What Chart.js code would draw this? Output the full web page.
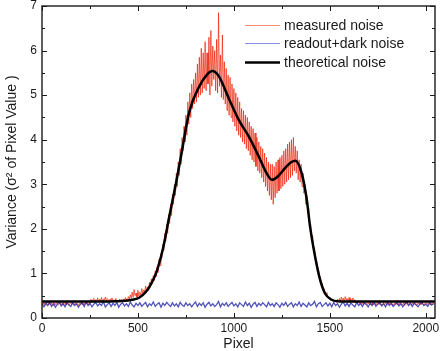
<!DOCTYPE html>
<html>
<head>
<meta charset="utf-8">
<script src="https://cdn.jsdelivr.net/npm/chart.js@4/dist/chart.umd.min.js"></script>
<style>
  html, body { margin: 0; padding: 0; background: #fff; }
</style>
</head>
<body>
<canvas id="noiseChart" width="440" height="351"></canvas>
<script>
// measured noise, one sample every 5 pixels (0 .. 2045)
const measuredStep = 5;
const measuredNoise = [
    0.33, 0.30, 0.35, 0.31, 0.28, 0.33, 0.36, 0.30, 0.32, 0.29,
    0.34, 0.31, 0.28, 0.33, 0.30, 0.35, 0.32, 0.29, 0.31, 0.34,
    0.30, 0.33, 0.28, 0.32, 0.35, 0.30, 0.31, 0.34, 0.29, 0.32,
    0.35, 0.30, 0.33, 0.29, 0.31, 0.34, 0.30, 0.32, 0.28, 0.33,
    0.31, 0.35, 0.29, 0.33, 0.30, 0.34, 0.31, 0.36, 0.32, 0.30,
    0.37, 0.42, 0.35, 0.40, 0.44, 0.36, 0.41, 0.38, 0.45, 0.37,
    0.42, 0.39, 0.46, 0.36, 0.43, 0.40, 0.47, 0.38, 0.44, 0.41,
    0.36, 0.43, 0.39, 0.45, 0.37, 0.41, 0.38, 0.44, 0.36, 0.40,
    0.37, 0.42, 0.38, 0.41, 0.36, 0.43, 0.40, 0.46, 0.41, 0.39,
    0.48, 0.42, 0.52, 0.44, 0.58, 0.46, 0.64, 0.50, 0.56, 0.47,
    0.62, 0.49, 0.58, 0.52, 0.66, 0.55, 0.63, 0.58, 0.72, 0.60,
    0.70, 0.62, 0.80, 0.69, 0.88, 0.76, 0.95, 0.84, 1.05, 0.93,
    1.15, 1.02, 1.32, 1.18, 1.45, 1.36, 1.66, 1.52, 1.90, 1.72,
    2.10, 1.90, 2.32, 2.12, 2.55, 2.30, 2.78, 2.55, 3.00, 2.75,
    3.25, 2.95, 3.50, 3.20, 3.80, 3.45, 4.05, 3.75, 4.30, 3.95,
    4.55, 4.10, 4.85, 4.35, 5.05, 4.50, 5.25, 4.70, 5.35, 4.80,
    5.50, 4.85, 5.70, 4.95, 5.85, 5.00, 6.05, 5.05, 5.95, 5.15,
    6.20, 5.10, 5.95, 5.25, 6.30, 5.00, 6.45, 5.20, 6.10, 5.35,
    6.00, 5.10, 6.25, 5.05, 6.85, 5.20, 5.90, 4.95, 6.35, 4.90,
    5.75, 4.80, 5.60, 4.65, 5.45, 4.55, 5.40, 4.50, 5.25, 4.40,
    5.15, 4.30, 5.05, 4.20, 4.95, 4.10, 4.85, 4.05, 4.70, 3.95,
    4.65, 3.90, 4.55, 3.80, 4.50, 3.75, 4.40, 3.65, 4.30, 3.55,
    4.25, 3.50, 4.15, 3.40, 4.05, 3.30, 3.95, 3.25, 3.85, 3.15,
    3.80, 3.05, 3.70, 2.95, 3.60, 2.85, 3.50, 2.75, 3.45, 2.65,
    3.45, 2.55, 3.40, 2.70, 3.50, 2.80, 3.55, 2.85, 3.60, 2.90,
    3.65, 2.95, 3.75, 3.00, 3.80, 3.05, 3.90, 3.10, 3.95, 3.15,
    4.00, 3.20, 4.05, 3.30, 3.85, 3.25, 3.75, 3.10, 3.55, 3.05,
    3.45, 2.95, 3.25, 2.80, 3.00, 2.55, 2.75, 2.35, 2.45, 2.05,
    2.10, 1.80, 1.85, 1.55, 1.58, 1.30, 1.32, 1.10, 1.12, 0.95,
    0.92, 0.80, 0.78, 0.66, 0.66, 0.56, 0.57, 0.48, 0.50, 0.43,
    0.46, 0.40, 0.43, 0.38, 0.41, 0.36, 0.40, 0.35, 0.42, 0.37,
    0.44, 0.38, 0.47, 0.39, 0.45, 0.36, 0.48, 0.40, 0.44, 0.37,
    0.46, 0.38, 0.43, 0.36, 0.45, 0.35, 0.41, 0.34, 0.38, 0.33,
    0.37, 0.32, 0.36, 0.31, 0.35, 0.30, 0.34, 0.31, 0.33, 0.30,
    0.34, 0.31, 0.33, 0.29, 0.35, 0.30, 0.32, 0.34, 0.29, 0.33,
    0.31, 0.35, 0.30, 0.33, 0.28, 0.32, 0.34, 0.30, 0.33, 0.31,
    0.29, 0.34, 0.31, 0.35, 0.30, 0.32, 0.28, 0.33, 0.31, 0.34,
    0.30, 0.33, 0.29, 0.35, 0.31, 0.32, 0.30, 0.34, 0.28, 0.33,
    0.31, 0.35, 0.30, 0.32, 0.34, 0.29, 0.33, 0.31, 0.35, 0.30,
    0.32, 0.29, 0.34, 0.31, 0.33, 0.30, 0.35, 0.31, 0.29, 0.33,
    0.31, 0.34, 0.30, 0.32, 0.35, 0.29, 0.33, 0.31, 0.34, 0.30
];

// readout + dark noise, one sample every 10 pixels (0 .. 2040)
const readoutStep = 10;
const readoutNoise = [
    0.30, 0.25, 0.34, 0.28, 0.35, 0.26, 0.32, 0.24, 0.31, 0.36,
    0.27, 0.33, 0.25, 0.34, 0.29, 0.26, 0.35, 0.28, 0.32, 0.24,
    0.31, 0.34, 0.26, 0.36, 0.28, 0.33, 0.25, 0.31, 0.35, 0.27,
    0.32, 0.28, 0.37, 0.25, 0.30, 0.34, 0.26, 0.33, 0.28, 0.35,
    0.24, 0.31, 0.34, 0.27, 0.32, 0.26, 0.36, 0.29, 0.25, 0.33,
    0.28, 0.34, 0.26, 0.31, 0.35, 0.25, 0.32, 0.28, 0.36, 0.26,
    0.31, 0.34, 0.24, 0.33, 0.28, 0.35, 0.30, 0.26, 0.34, 0.27,
    0.32, 0.25, 0.35, 0.29, 0.26, 0.34, 0.28, 0.32, 0.25, 0.31,
    0.36, 0.26, 0.33, 0.28, 0.34, 0.24, 0.31, 0.35, 0.27, 0.32,
    0.26, 0.30, 0.37, 0.25, 0.33, 0.28, 0.34, 0.26, 0.31, 0.35,
    0.27, 0.32, 0.25, 0.34, 0.30, 0.26, 0.36, 0.28, 0.33, 0.24,
    0.31, 0.35, 0.26, 0.33, 0.28, 0.34, 0.30, 0.25, 0.35, 0.28,
    0.32, 0.26, 0.34, 0.30, 0.24, 0.33, 0.28, 0.35, 0.26, 0.31,
    0.34, 0.25, 0.32, 0.28, 0.36, 0.26, 0.33, 0.29, 0.25, 0.34,
    0.28, 0.31, 0.37, 0.25, 0.32, 0.35, 0.26, 0.30, 0.34, 0.27,
    0.33, 0.25, 0.35, 0.28, 0.32, 0.24, 0.31, 0.36, 0.27, 0.33,
    0.26, 0.34, 0.29, 0.25, 0.35, 0.28, 0.32, 0.26, 0.34, 0.30,
    0.25, 0.33, 0.28, 0.36, 0.26, 0.31, 0.34, 0.27, 0.32, 0.25,
    0.35, 0.28, 0.33, 0.26, 0.30, 0.34, 0.27, 0.32, 0.25, 0.31,
    0.36, 0.28, 0.33, 0.26, 0.34, 0.29, 0.25, 0.32, 0.35, 0.28,
    0.31, 0.26, 0.34, 0.29, 0.32
];

// theoretical noise curve
const theoryPixel = [0, 200, 350, 420, 470, 508, 540, 560, 594, 629, 663, 698, 724, 767, 819, 860, 888, 922, 974, 1026, 1078, 1130, 1170, 1198, 1230, 1270, 1300, 1320, 1354, 1380, 1397, 1423, 1449, 1475, 1509, 1540, 1580, 1800, 2048];
const theoryNoise = [0.37, 0.37, 0.37, 0.38, 0.41, 0.46, 0.58, 0.70, 1.00, 1.53, 2.27, 3.02, 3.62, 4.62, 5.19, 5.46, 5.54, 5.42, 4.92, 4.44, 4.07, 3.62, 3.25, 3.10, 3.18, 3.38, 3.50, 3.53, 3.24, 2.65, 2.05, 1.38, 0.86, 0.55, 0.41, 0.375, 0.37, 0.37, 0.37];

const xTicks = [0, 500, 1000, 1500, 2000];
const yTicks = [0, 1, 2, 3, 4, 5, 6, 7];

const legendNames = ['measured noise', 'readout+dark noise', 'theoretical noise'];

const FONT = "'Liberation Sans', Arial, sans-serif";

const toPoints = (ys, step) => ys.map((v, i) => ({ x: i * step, y: v }));

// inward tick marks, frame and the legend inside the plot
const frameTicks = {
    id: 'frameTicks',
    afterDatasetsDraw(chart) {
        const ctx = chart.ctx;
        const a = chart.chartArea;
        const xs = chart.scales.x, ys = chart.scales.y;
        ctx.save();
        ctx.strokeStyle = '#1a1a1a';
        ctx.lineWidth = 1.4;
        ctx.strokeRect(a.left, a.top, a.right - a.left, a.bottom - a.top);

        ctx.lineWidth = 1;
        const xMin = xTicks.map(v => v + 250).filter(v => v < xs.max);
        const yMin = yTicks.map(v => v + 0.5).filter(v => v < ys.max);
        ctx.beginPath();
        xTicks.forEach(v => {
            const p = Math.round(xs.getPixelForValue(v)) + 0.5;
            ctx.moveTo(p, a.bottom); ctx.lineTo(p, a.bottom - 5);
            ctx.moveTo(p, a.top); ctx.lineTo(p, a.top + 5);
        });
        xMin.forEach(v => {
            const p = Math.round(xs.getPixelForValue(v)) + 0.5;
            ctx.moveTo(p, a.bottom); ctx.lineTo(p, a.bottom - 3);
            ctx.moveTo(p, a.top); ctx.lineTo(p, a.top + 3);
        });
        yTicks.forEach(v => {
            const p = Math.round(ys.getPixelForValue(v)) + 0.5;
            ctx.moveTo(a.left, p); ctx.lineTo(a.left + 5, p);
            ctx.moveTo(a.right, p); ctx.lineTo(a.right - 5, p);
        });
        yMin.forEach(v => {
            const p = Math.round(ys.getPixelForValue(v)) + 0.5;
            ctx.moveTo(a.left, p); ctx.lineTo(a.left + 3, p);
            ctx.moveTo(a.right, p); ctx.lineTo(a.right - 3, p);
        });
        ctx.stroke();

        // legend
        const rows = [25, 43, 62];
        const colors = ['rgb(245,140,120)', 'rgb(135,145,230)', '#000'];
        const widths = [1, 1, 2.5];
        ctx.font = '14px ' + FONT;
        ctx.textBaseline = 'middle';
        ctx.textAlign = 'left';
        legendNames.forEach((name, i) => {
            ctx.strokeStyle = colors[i];
            ctx.lineWidth = widths[i];
            ctx.beginPath();
            ctx.moveTo(245, rows[i] + 0.5);
            ctx.lineTo(280, rows[i] + 0.5);
            ctx.stroke();
            ctx.fillStyle = '#1a1a1a';
            ctx.fillText(name, 284, rows[i] + 1);
        });
        ctx.restore();
    }
};

new Chart(document.getElementById('noiseChart').getContext('2d'), {
    type: 'line',
    data: {
        datasets: [{
            label: legendNames[0],
            data: toPoints(measuredNoise, measuredStep),
            borderColor: 'rgba(236,30,5,0.68)',
            borderWidth: 1,
            pointRadius: 0,
            tension: 0,
            order: 2
        }, {
            label: legendNames[1],
            data: toPoints(readoutNoise, readoutStep),
            borderColor: 'rgba(35,40,165,0.8)',
            borderWidth: 1.3,
            pointRadius: 0,
            tension: 0,
            order: 1
        }, {
            label: legendNames[2],
            data: theoryNoise.map((v, i) => ({ x: theoryPixel[i], y: v })),
            borderColor: '#000',
            borderWidth: 2.5,
            pointRadius: 0,
            cubicInterpolationMode: 'monotone',
            order: 0
        }]
    },
    options: {
        responsive: false,
        animation: false,
        layout: { padding: { top: 6, right: 5, left: 0, bottom: 0 } },
        plugins: {
            legend: { display: false },
            tooltip: { enabled: false }
        },
        scales: {
            x: {
                type: 'linear',
                min: 0,
                max: 2048,
                grid: { display: false, drawTicks: false },
                border: { display: false },
                afterBuildTicks: s => { s.ticks = xTicks.map(v => ({ value: v })); },
                ticks: {
                    maxRotation: 0,
                    autoSkip: false,
                    padding: 3,
                    color: '#1a1a1a',
                    font: { family: FONT, size: 12 },
                    callback: v => String(v)
                },
                title: {
                    display: true,
                    text: 'Pixel',
                    color: '#1a1a1a',
                    font: { family: FONT, size: 14, lineHeight: 1 },
                    padding: { top: 0, bottom: 0 }
                },
                afterFit: s => { s.height = 33; s.paddingLeft = 0; s.paddingRight = 0; }
            },
            y: {
                min: 0,
                max: 7,
                grid: { display: false, drawTicks: false },
                border: { display: false },
                afterBuildTicks: s => { s.ticks = yTicks.map(v => ({ value: v })); },
                ticks: {
                    autoSkip: false,
                    padding: 5,
                    color: '#1a1a1a',
                    font: { family: FONT, size: 12 },
                    callback: v => String(v)
                },
                title: {
                    display: true,
                    text: 'Variance (\u03c3\u00b2 of Pixel Value )',
                    color: '#1a1a1a',
                    font: { family: FONT, size: 14, lineHeight: 1 },
                    padding: { top: 5, bottom: 0 }
                },
                afterFit: s => { s.width = 42; s.paddingTop = 0; s.paddingBottom = 0; }
            }
        }
    },
    plugins: [frameTicks]
});
</script>
</body>
</html>
